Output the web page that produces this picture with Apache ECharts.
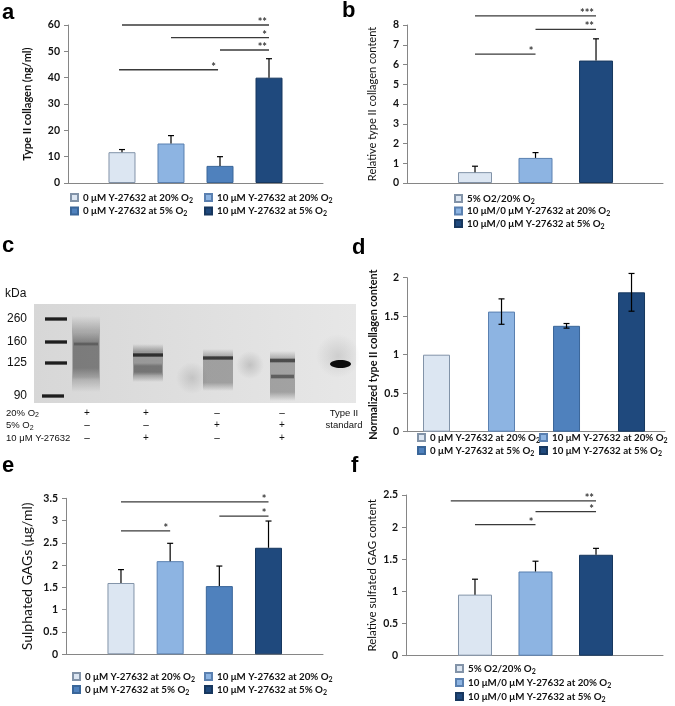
<!DOCTYPE html>
<html><head><meta charset="utf-8">
<script src="https://cdn.jsdelivr.net/npm/echarts@6/dist/echarts.min.js"></script>
<style>html,body{margin:0;padding:0;background:#fff}#c{width:675px;height:706px}</style>
</head><body><div id="c"></div>
<script>
// ---------- DATA ----------
const groups4 = ['0 μM Y-27632 at 20% O2','10 μM Y-27632 at 20% O2','0 μM Y-27632 at 5% O2','10 μM Y-27632 at 5% O2'];
const groups3 = ['5% O2/20% O2','10 μM/0 μM Y-27632 at 20% O2','10 μM/0 μM Y-27632 at 5% O2'];

const collagenA = [11.7, 15.0, 6.5, 40.0];
const collagenAErr = [1.0, 3.0, 3.5, 7.2];
const relCollagenB = [0.55, 1.27, 6.2];
const relCollagenBErr = [0.3, 0.27, 1.1];
const normCollagenD = [1.0, 1.56, 1.375, 1.81];
const normCollagenDErr = [0, 0.165, 0.03, 0.245];
const gagE = [1.6, 2.09, 1.53, 2.39];
const gagEErr = [0.3, 0.4, 0.45, 0.6];
const relGagF = [0.95, 1.31, 1.57];
const relGagFErr = [0.24, 0.16, 0.1];

// significance brackets: [from group, to group, height, label]
const sigA = [[1,4,60,'**'],[2,4,55.2,'*'],[3,4,50.5,'**'],[0.94,2.96,43,'*']];
const sigB = [[1,3,8.46,'***'],[2,3,7.78,'**'],[1,2,6.53,'*']];
const sigE = [[1,4,3.42,'*'],[3,4,3.10,'*'],[1,2,2.77,'*']];
const sigF = [[0.6,3,2.41,'**'],[2,3,2.24,'*'],[1,2,2.04,'*']];

const ticksA = [0,10,20,30,40,50,60];
const ticksB = [0,1,2,3,4,5,6,7,8];
const ticksD = [0,0.5,1,1.5,2];
const ticksE = [0,0.5,1,1.5,2,2.5,3,3.5];
const ticksF = [0,0.5,1,1.5,2,2.5];

const blotMarkers = ['260','160','125','90'];
const blotRows = ['20% O2','5% O2','10 μM Y-27632'];
const blotSigns = [['+','+','–','–'],['–','–','+','+'],['–','+','–','+']];
const blotStandard = ['Type II','standard'];

// ---------- STYLE / LAYOUT ----------
const FONT = 'Lato, "Open Sans", sans-serif';
const ARIAL = '"Liberation Sans", Arial, sans-serif';
const COL = ['#dce6f2','#8db4e2','#4f81bd','#1f497d'];
const BCOL = ['#8293a8','#5a80b0','#3a6699','#17375e'];

const panels = [
  {names:groups4, vals:collagenA, errs:collagenAErr, ci:[0,1,2,3], sig:sigA, ticks:ticksA,
   grid:{left:68, top:25, width:255, height:158}, xr:[-0.102,5.102], bw:27, two:false,
   yname:'Type II collagen (ng/ml)', yw:'bold', ys:11, gap:35,
   leg:[[70,199],[204,199],[70,212.5],[204,212.5]]},
  {names:groups3, vals:relCollagenB, errs:relCollagenBErr, ci:[0,1,3], sig:sigB, ticks:ticksB,
   grid:{left:407, top:25, width:256, height:158}, xr:[-0.124,4.107], bw:34, two:false,
   yname:'Relative type II collagen content', yw:'normal', ys:11, gap:29,
   leg:[[454,200],[454,212.5],[454,225]]},
  {names:groups4, vals:normCollagenD, errs:normCollagenDErr, ci:[0,1,2,3], sig:[], ticks:ticksD,
   grid:{left:407, top:277.7, width:258, height:154}, xr:[0.546,4.515], bw:27, two:true,
   yname:'Normalized type II collagen content', yw:'bold', ys:10.8, gap:28,
   leg:[[417,439],[539,439],[417,452],[539,452]]},
  {names:groups4, vals:gagE, errs:gagEErr, ci:[0,1,2,3], sig:sigE, ticks:ticksE,
   grid:{left:66, top:498.3, width:257, height:156}, xr:[-0.118,5.108], bw:27, two:false,
   yname:'Sulphated GAGs (μg/ml)', yw:'normal', ys:14, gap:32,
   leg:[[72,678],[204,678],[72,691],[204,691]]},
  {names:groups3, vals:relGagF, errs:relGagFErr, ci:[0,1,3], sig:sigF, ticks:ticksF,
   grid:{left:406, top:495, width:257, height:160.7}, xr:[-0.14,4.107], bw:34, two:false,
   yname:'Relative sulfated GAG content', yw:'normal', ys:11.5, gap:28,
   leg:[[455,670],[455,684],[455,698]]}
];

function subFmt(n){ const k = n.lastIndexOf('O2'); return '{t|' + n.slice(0, k + 1) + '}{s|2}'; }
const legRich = {
  t:{fontFamily:FONT, fontWeight:'bold', fontSize:9.75, color:'#111', lineHeight:13, verticalAlign:'middle'},
  s:{fontFamily:FONT, fontWeight:'bold', fontSize:7, color:'#111', lineHeight:8, verticalAlign:'bottom'}
};

const grids = [], xAxes = [], yAxes = [], series = [], legends = [];
panels.forEach((p, k) => {
  grids.push(Object.assign({outerBoundsMode:'none', containLabel:false}, p.grid));
  xAxes.push({type:'value', gridIndex:k, min:p.xr[0], max:p.xr[1],
    axisLine:{show:true, onZero:false, lineStyle:{color:'#868686', width:1}},
    axisTick:{show:false}, axisLabel:{show:false}, splitLine:{show:false}});
  yAxes.push({type:'value', gridIndex:k, min:p.ticks[0], max:p.ticks[p.ticks.length-1],
    interval:p.ticks[1]-p.ticks[0],
    name:p.yname, nameLocation:'middle', nameRotate:90, nameGap:p.gap,
    nameTextStyle:{fontFamily:FONT, fontWeight:p.yw, fontSize:p.ys, color:'#111'},
    axisLine:{show:true, onZero:false, lineStyle:{color:'#868686', width:1}},
    axisTick:{show:true, length:4, inside:false, lineStyle:{color:'#868686'}},
    axisLabel:{fontFamily:FONT, fontWeight:'bold', fontSize:10.5, color:'#111', margin:8},
    splitLine:{show:false}});
  p.names.forEach((nm, i) => {
    series.push({type:'bar', name:nm, xAxisIndex:k, yAxisIndex:k, barWidth:p.bw, barGap:'-100%',
      data:[[i + 1, p.vals[i]]],
      itemStyle:{color:COL[p.ci[i]], borderColor:BCOL[p.ci[i]], borderWidth:1}, z:2});
    legends.push({data:[{name:nm, icon:'rect'}], left:p.leg[i][0], top:p.leg[i][1] - 6.5,
      itemWidth:7, itemHeight:7, itemGap:0, padding:0, selectedMode:false,
      formatter:subFmt, textStyle:{rich:legRich}});
  });
  series.push({type:'custom', xAxisIndex:k, yAxisIndex:k, z:4, silent:true, clip:false,
    data:p.vals.map((v, i) => [i + 1, v, p.errs[i]]),
    renderItem:(params, api) => {
      const x = api.value(0), v = api.value(1), e = api.value(2);
      if (!(e > 0)) return null;
      const t = api.coord([x, v + e]);
      const b = api.coord([x, p.two ? v - e : v]);
      const st = {stroke:'#000', lineWidth:1.2};
      const ch = [
        {type:'line', shape:{x1:t[0], y1:t[1], x2:b[0], y2:b[1]}, style:st},
        {type:'line', shape:{x1:t[0]-3, y1:t[1], x2:t[0]+3, y2:t[1]}, style:st}];
      if (p.two) ch.push({type:'line', shape:{x1:b[0]-3, y1:b[1], x2:b[0]+3, y2:b[1]}, style:st});
      return {type:'group', children:ch};
    }});
  if (p.sig.length) series.push({type:'custom', xAxisIndex:k, yAxisIndex:k, z:5, silent:true, clip:false,
    data:p.sig.map(s => [s[0], s[2], s[1]]),
    renderItem:(params, api) => {
      const s = p.sig[params.dataIndex];
      const a = api.coord([api.value(0), api.value(1)]);
      const b = api.coord([api.value(2), api.value(1)]);
      return {type:'group', children:[
        {type:'line', shape:{x1:a[0], y1:a[1], x2:b[0], y2:b[1]}, style:{stroke:'#3a3a3a', lineWidth:1.3}},
        {type:'text', x:b[0] - 2, y:a[1] + 3, style:{text:s[3], align:'right', verticalAlign:'bottom',
          fontFamily:FONT, fontWeight:'bold', fontSize:11, fill:'#3a3a3a'}}]};
    }});
});

// ---------- GRAPHIC: panel letters + western blot (panel c) ----------
const graphic = [];
[['a',2,24],['b',342,22],['c',2,257],['d',352,259],['e',2,477],['f',351,477]].forEach(l => {
  graphic.push({type:'text', x:l[1], y:l[2], style:{text:l[0], fontFamily:ARIAL, fontWeight:'bold',
    fontSize:22, fill:'#000', verticalAlign:'bottom', align:'left'}});
});
// blot background
graphic.push({type:'rect', shape:{x:34, y:304, width:322, height:99},
  style:{fill:new echarts.graphic.LinearGradient(0,0,1,0,[{offset:0,color:'#d7d7d7'},{offset:0.5,color:'#dfdfdf'},{offset:1,color:'#e7e7e7'}])}});
const rgba = (g, a) => 'rgba(' + g + ',' + g + ',' + g + ',' + a + ')';
// soft band: vertical fade in/out
const lane = (x, y, w, h, g, a, edge) => graphic.push({type:'rect', shape:{x:x, y:y, width:w, height:h},
  style:{fill:new echarts.graphic.LinearGradient(0,0,0,1,[
    {offset:0,color:rgba(g,0)},{offset:edge,color:rgba(g,a)},{offset:1-edge,color:rgba(g,a)},{offset:1,color:rgba(g,0)}])}});
const haze = (cx, cy, r, g, a) => graphic.push({type:'circle', shape:{cx:cx, cy:cy, r:r},
  style:{fill:new echarts.graphic.RadialGradient(0.5,0.5,0.5,[
    {offset:0,color:rgba(g,a)},{offset:1,color:rgba(g,0)}])}});
// ladder
const markerY = [319, 342, 363, 396];
markerY.forEach((y, i) => lane(i === 3 ? 42 : 45, y - 2.5, 22, 5, 20, 0.95, 0.3));
// lane 1
lane(72, 316, 28, 76, 80, 0.35, 0.2);
lane(73, 332, 26, 48, 60, 0.42, 0.25);
lane(74, 342, 24, 4, 40, 0.35, 0.3);
// lane 2
lane(133, 344, 30, 38, 70, 0.45, 0.2);
lane(133, 352.5, 30, 5, 20, 0.8, 0.3);
lane(134, 363, 28, 12, 50, 0.35, 0.25);
// lane 3
haze(192, 378, 16, 100, 0.22);
lane(203, 349, 30, 42, 70, 0.42, 0.2);
lane(203, 355.5, 30, 5, 25, 0.75, 0.3);
haze(250, 365, 14, 100, 0.25);
// lane 4
lane(270, 351, 25, 50, 70, 0.42, 0.18);
lane(270, 358, 25, 5, 30, 0.65, 0.3);
lane(271, 374, 23, 5, 30, 0.5, 0.3);
// standard
haze(338, 356, 22, 110, 0.2);
graphic.push({type:'ellipse', shape:{cx:340.5, cy:364, rx:10.5, ry:4},
  style:{fill:'#0d0d0d'}});
// blot texts
graphic.push({type:'text', x:5, y:294, style:{text:'kDa', fontFamily:ARIAL, fontSize:12, fill:'#111', verticalAlign:'middle'}});
blotMarkers.forEach((m, i) => graphic.push({type:'text', x:27, y:markerY[i], style:{text:m, fontFamily:ARIAL, fontSize:12,
  fill:'#111', align:'right', verticalAlign:'middle'}}));
const rowY = [413, 425.5, 438];
const blotRich = {t:{fontFamily:ARIAL, fontSize:9.5, fill:'#111', lineHeight:12, verticalAlign:'middle'},
  s:{fontFamily:ARIAL, fontSize:7, fill:'#111', lineHeight:7, verticalAlign:'bottom'}};
blotRows.forEach((r, i) => {
  const k = r.indexOf('O2');
  const txt = k >= 0 ? '{t|' + r.slice(0, k + 1) + '}{s|2}' : '{t|' + r + '}';
  graphic.push({type:'text', x:6, y:rowY[i], style:{text:txt, rich:blotRich, verticalAlign:'middle'}});
});
const laneX = [87, 146, 217, 282];
blotSigns.forEach((row, i) => row.forEach((s, j) => graphic.push({type:'text', x:laneX[j], y:rowY[i],
  style:{text:s, fontFamily:ARIAL, fontSize:10, fill:'#111', align:'center', verticalAlign:'middle'}})));
blotStandard.forEach((s, i) => graphic.push({type:'text', x:344, y:rowY[i], style:{text:s, fontFamily:ARIAL,
  fontSize:9.5, fill:'#111', align:'center', verticalAlign:'middle'}}));

const chart = echarts.init(document.getElementById('c'), null, {renderer:'canvas', width:675, height:706});
chart.setOption({animation:false, backgroundColor:'#fff', grid:grids, xAxis:xAxes, yAxis:yAxes,
  series:series, legend:legends, graphic:graphic});
</script></body></html>
